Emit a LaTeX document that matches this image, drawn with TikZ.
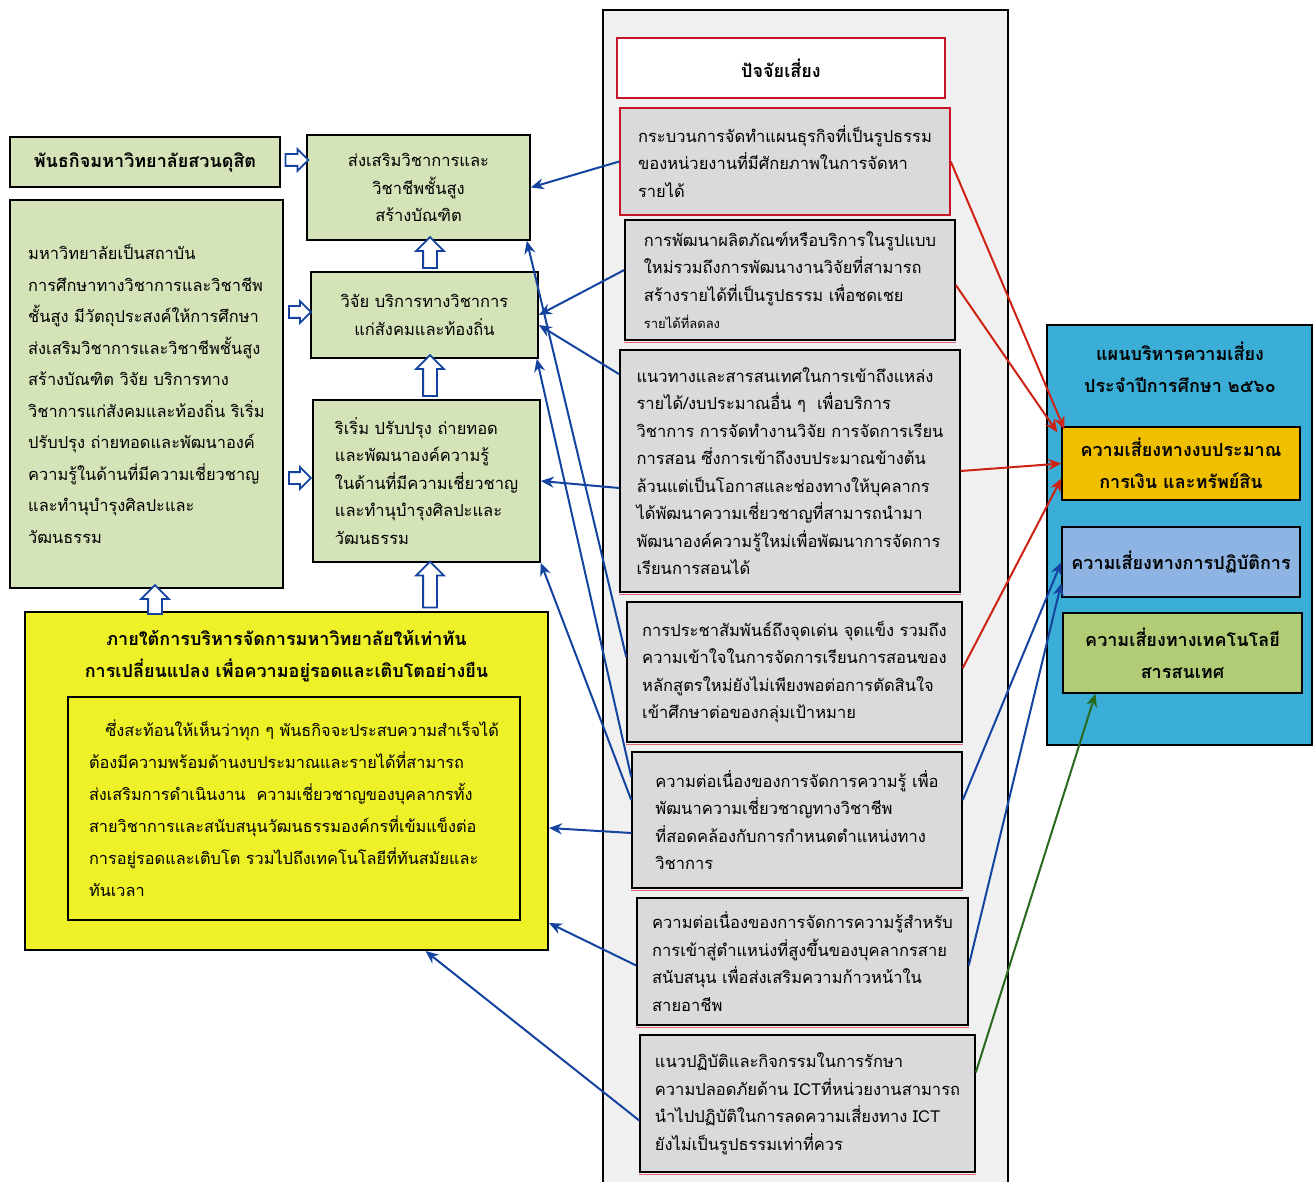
\documentclass[tikz,border=0pt]{standalone}
\usepackage{fontspec}
\newfontfamily\thaifont[Script=Thai]{Loma}
\usetikzlibrary{arrows.meta,shapes.arrows}
\definecolor{leafgreen}{RGB}{212,227,184}
\definecolor{riskgray}{RGB}{218,218,220}
\definecolor{colbg}{RGB}{240,240,240}
\definecolor{mgmtyellow}{RGB}{238,240,40}
\definecolor{planblue}{RGB}{58,174,214}
\definecolor{budgetgold}{RGB}{240,192,0}
\definecolor{operblue}{RGB}{141,180,226}
\definecolor{techgreen}{RGB}{178,204,118}
\definecolor{linkblue}{RGB}{20,68,160}
\definecolor{linkred}{RGB}{205,35,20}
\definecolor{linkgreen}{RGB}{40,105,30}
\definecolor{framered}{RGB}{200,20,40}
\definecolor{shadowred}{RGB}{232,100,120}
\newcommand{\frameline}{1.6pt}
\newcommand{\linkline}{2pt}
\newcommand{\headfont}{\thaifont\bfseries\fontsize{18}{32}\selectfont}
\newcommand{\bodyfont}{\thaifont\fontsize{16.5}{27.5}\selectfont}
\newcommand{\unifont}{\thaifont\fontsize{16.4}{31.5}\selectfont}
\newcommand{\mgmtfont}{\thaifont\fontsize{16.3}{32}\selectfont}

\begin{document}
\begin{tikzpicture}[x=1pt, y=-1pt,
    greenbox/.style={draw, line width=\frameline, fill=leafgreen, inner sep=0pt},
    riskbox/.style={draw, line width=1.5pt, fill=riskgray, inner sep=0pt, align=left, font=\bodyfont},
    planbox/.style={draw, line width=1.3pt, inner sep=0pt, align=center, font=\headfont},
    hollowarrow/.style={single arrow, draw=linkblue, fill=white, line width=1.8pt,
      inner xsep=0pt, inner ysep=5pt, single arrow head extend=5pt},
    hollowup/.style={hollowarrow, shape border rotate=90, inner xsep=6pt, inner ysep=0pt, single arrow head extend=7pt},
    bluelink/.style={draw=linkblue, line width=\linkline, -{Stealth[length=13pt,width=11pt]}},
    redlink/.style={draw=linkred, line width=\linkline, -{Stealth[length=13pt,width=11pt]}},
    greenlink/.style={draw=linkgreen, line width=\linkline, -{Stealth[length=13pt,width=11pt]}}]
  \useasboundingbox (0,0) rectangle (1315,1182);
  \fill[white] (0,0) rectangle (1315,1182);

  % mission column
  \node (mission) at (145,162) [greenbox, minimum width=270pt, minimum height=50pt, font=\headfont] {พันธกิจมหาวิทยาลัยสวนดุสิต};
  \node (uni) at (146.5,394) [greenbox, minimum width=273pt, minimum height=388pt, align=left, font=\unifont]
    {มหาวิทยาลัยเป็นสถาบัน\\การศึกษาทางวิชาการและวิชาชีพ\\ชั้นสูง มีวัตถุประสงค์ให้การศึกษา\\ส่งเสริมวิชาการและวิชาชีพชั้นสูง\\สร้างบัณฑิต วิจัย บริการทาง\\วิชาการแก่สังคมและท้องถิ่น ริเริ่ม\\ปรับปรุง ถ่ายทอดและพัฒนาองค์\\ความรู้ในด้านที่มีความเชี่ยวชาญ\\และทำนุบำรุงศิลปะและ\\วัฒนธรรม};

  \node (promote) at (418.5,187.5) [greenbox, minimum width=223pt, minimum height=105pt, align=center, font=\bodyfont]
    {ส่งเสริมวิชาการและ\\วิชาชีพชั้นสูง\\สร้างบัณฑิต};
  \node (research) at (424.5,315) [greenbox, minimum width=227pt, minimum height=86pt, align=center, font=\bodyfont]
    {วิจัย บริการทางวิชาการ\\แก่สังคมและท้องถิ่น};
  \node (initiate) at (426.5,481) [greenbox, minimum width=227pt, minimum height=162pt, align=left, font=\bodyfont]
    {ริเริ่ม ปรับปรุง ถ่ายทอด\\และพัฒนาองค์ความรู้\\ในด้านที่มีความเชี่ยวชาญ\\และทำนุบำรุงศิลปะและ\\วัฒนธรรม};

  % management box
  \node (mgmt) at (286.5,781) [draw, line width=2pt, fill=mgmtyellow, minimum width=523pt, minimum height=338pt] {};
  \node (mgmttitle) at (286.5,656) [align=center, font=\headfont] {ภายใต้การบริหารจัดการมหาวิทยาลัยให้เท่าทัน\\การเปลี่ยนแปลง เพื่อความอยู่รอดและเติบโตอย่างยืน};
  \node (mgmtin) at (294,808.5) [draw, line width=2pt, minimum width=452pt, minimum height=223pt, align=left, font=\mgmtfont]
    {\hspace*{1em}ซึ่งสะท้อนให้เห็นว่าทุก ๆ พันธกิจจะประสบความสำเร็จได้\\ต้องมีความพร้อมด้านงบประมาณและรายได้ที่สามารถ\\ส่งเสริมการดำเนินงาน\ \ ความเชี่ยวชาญของบุคลากรทั้ง\\สายวิชาการและสนับสนุนวัฒนธรรมองค์กรที่เข้มแข็งต่อ\\การอยู่รอดและเติบโต รวมไปถึงเทคโนโลยีที่ทันสมัยและ\\ทันเวลา};

  % hollow arrows
  \node (fat1) at (294,160) [hollowarrow, minimum height=23pt] {};
  \node (fat2) at (297,312) [hollowarrow, minimum height=22pt] {};
  \node (fat3) at (297,478) [hollowarrow, minimum height=22pt] {};
  \node (fat4) at (430,256) [hollowup, minimum height=31pt] {};
  \node (fat5) at (430,379) [hollowup, minimum height=41pt] {};
  \node (fat6) at (430,588) [hollowup, minimum height=46pt] {};
  \node (fat7) at (155,603) [hollowup, minimum height=29pt] {};

  % risk factors column
  \fill[colbg] (603,10) rectangle (1008,1182);
  \draw[line width=1.4pt] (603,1182) -- (603,10) -- (1008,10) -- (1008,1182);
  \node (riskhead) at (781,68) [draw=framered, line width=1.6pt, fill=white, minimum width=328pt, minimum height=60pt, font=\headfont] {ปัจจัยเสี่ยง};
  \node (risk1) at (785,161.5) [riskbox, draw=framered, minimum width=330pt, minimum height=107pt]
    {กระบวนการจัดทำแผนธุรกิจที่เป็นรูปธรรม\\ของหน่วยงานที่มีศักยภาพในการจัดหา\\รายได้};
  \node (risk2) at (790,280) [riskbox, minimum width=330pt, minimum height=120pt]
    {การพัฒนาผลิตภัณฑ์หรือบริการในรูปแบบ\\ใหม่รวมถึงการพัฒนางานวิจัยที่สามารถ\\สร้างรายได้ที่เป็นรูปธรรม เพื่อชดเชย\\{\fontsize{13}{20}\selectfont รายได้ที่ลดลง}};
  \node (risk3) at (790,471) [riskbox, minimum width=340pt, minimum height=242pt]
    {แนวทางและสารสนเทศในการเข้าถึงแหล่ง\\รายได้/งบประมาณอื่น ๆ\ \ เพื่อบริการ\\วิชาการ การจัดทำงานวิจัย การจัดการเรียน\\การสอน ซึ่งการเข้าถึงงบประมาณข้างต้น\\ล้วนแต่เป็นโอกาสและช่องทางให้บุคลากร\\ได้พัฒนาความเชี่ยวชาญที่สามารถนำมา\\พัฒนาองค์ความรู้ใหม่เพื่อพัฒนาการจัดการ\\เรียนการสอนได้};
  \node (risk4) at (794.5,672) [riskbox, minimum width=335pt, minimum height=140pt]
    {การประชาสัมพันธ์ถึงจุดเด่น จุดแข็ง รวมถึง\\ความเข้าใจในการจัดการเรียนการสอนของ\\หลักสูตรใหม่ยังไม่เพียงพอต่อการตัดสินใจ\\เข้าศึกษาต่อของกลุ่มเป้าหมาย};
  \node (risk5) at (797,820) [riskbox, minimum width=330pt, minimum height=136pt]
    {ความต่อเนื่องของการจัดการความรู้ เพื่อ\\พัฒนาความเชี่ยวชาญทางวิชาชีพ\\ที่สอดคล้องกับการกำหนดตำแหน่งทาง\\วิชาการ};
  \node (risk6) at (802.5,961.5) [riskbox, minimum width=331pt, minimum height=127pt]
    {ความต่อเนื่องของการจัดการความรู้สำหรับ\\การเข้าสู่ตำแหน่งที่สูงขึ้นของบุคลากรสาย\\สนับสนุน เพื่อส่งเสริมความก้าวหน้าใน\\สายอาชีพ};
  \node (risk7) at (807.5,1103.5) [riskbox, minimum width=335pt, minimum height=137pt]
    {แนวปฏิบัติและกิจกรรมในการรักษา\\ความปลอดภัยด้าน ICTที่หน่วยงานสามารถ\\นำไปปฏิบัติในการลดความเสี่ยงทาง ICT\\ยังไม่เป็นรูปธรรมเท่าที่ควร};
  \foreach \r in {risk2,risk3,risk4,risk5,risk6,risk7}
    \draw[shadowred, line width=1.4pt] ([yshift=-2pt]\r.south west) -- ([yshift=-2pt]\r.south east);

  % risk plan
  \node (plan) at (1179.5,535) [draw, line width=1.6pt, fill=planblue, minimum width=265pt, minimum height=420pt] {};
  \node (plantitle) at (1180,367) [align=center, font=\headfont] {แผนบริหารความเสี่ยง\\ประจำปีการศึกษา ๒๕๖๐};
  \node (budget) at (1181,463.5) [planbox, fill=budgetgold, minimum width=238pt, minimum height=73pt] {ความเสี่ยงทางงบประมาณ\\การเงิน และทรัพย์สิน};
  \node (oper) at (1181,562) [planbox, fill=operblue, minimum width=238pt, minimum height=70pt] {ความเสี่ยงทางการปฏิบัติการ};
  \node (tech) at (1182.5,653) [planbox, fill=techgreen, minimum width=239pt, minimum height=80pt] {ความเสี่ยงทางเทคโนโลยี\\สารสนเทศ};

  % links to missions
  \draw[bluelink] (risk1.west) -- (promote.east);
  \draw[bluelink] ([yshift=10pt]risk2.west) -- (research.east);
  \draw[bluelink] ([yshift=-25pt]risk3.north west) -- ([yshift=-10pt]research.east);
  \draw[bluelink] ([yshift=-17pt]risk3.west) -- (initiate.east);
  \draw[bluelink] ([yshift=15pt]risk4.west) -- ([xshift=-4pt]promote.south east);
  \draw[bluelink] ([yshift=43pt]risk5.west) -- ([xshift=-2pt]research.south east);
  \draw[bluelink] ([yshift=20pt]risk5.west) -- (initiate.south east);
  \draw[bluelink] ([yshift=-13pt]risk5.west) -- ([yshift=-47pt]mgmt.east);
  \draw[bluelink] ([yshift=-4pt]risk6.west) -- ([yshift=28pt]mgmt.south east);
  \draw[bluelink] ([yshift=-17pt]risk7.west) -- ([xshift=139pt]mgmt.south);

  % links to plan
  \draw[redlink] (risk1.east) -- ([xshift=3pt,yshift=-3pt]budget.north west);
  \draw[redlink] ([yshift=-5pt]risk2.east) -- ([xshift=-4pt,yshift=-6pt]budget.north west);
  \draw[redlink] (risk3.east) -- (budget.west);
  \draw[redlink] ([yshift=4pt]risk4.east) -- ([yshift=-15pt]budget.west);
  \draw[bluelink] ([yshift=20pt]risk5.east) -- (oper.west);
  \draw[bluelink] ([yshift=-4pt]risk6.east) -- ([yshift=-21pt]oper.west);
  \draw[greenlink] ([yshift=31pt]risk7.east) -- ([xshift=-87pt]tech.south);
\end{tikzpicture}
\end{document}
